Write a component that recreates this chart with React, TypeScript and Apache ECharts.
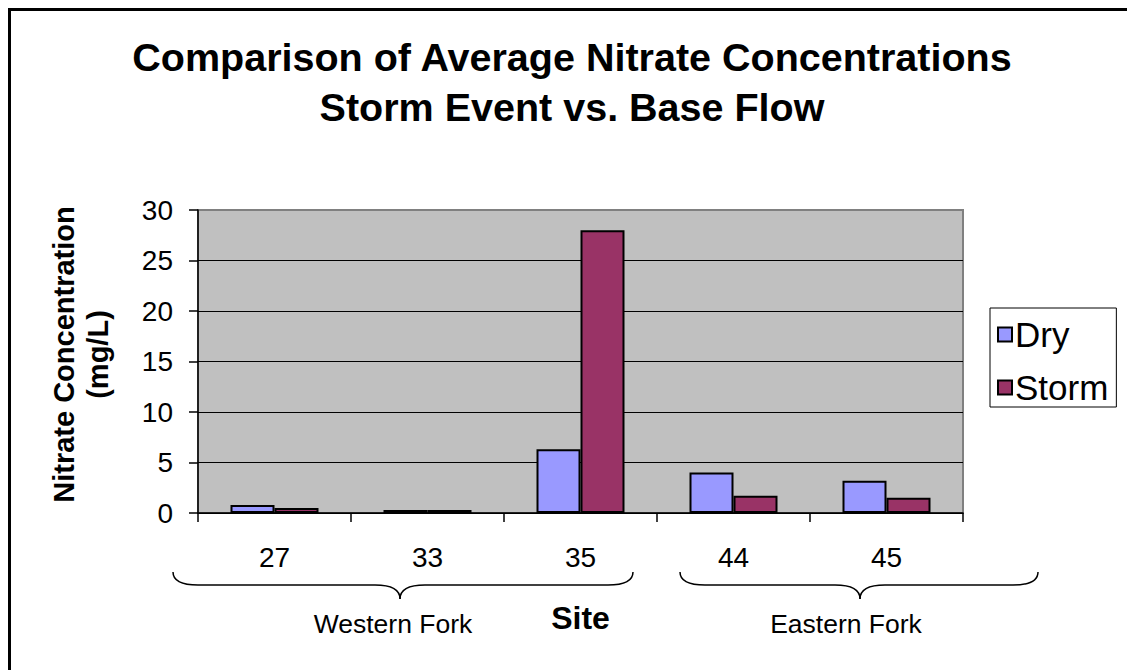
import React, { useEffect, useRef } from "react";
import * as echarts from "echarts";

// Sampling sites along the stream and their average nitrate (mg/L)
const sites = ["27", "33", "35", "44", "45"];
const dryValues = [0.8, 0.3, 6.3, 4.0, 3.2];
const stormValues = [0.5, 0.3, 28.0, 1.7, 1.5];
const seriesNames = ["Dry", "Storm"];
const yTicks = { min: 0, max: 30, interval: 5 };
const titleLines = [
  "Comparison of Average Nitrate Concentrations",
  "Storm Event vs. Base Flow",
];
const forkLabels = ["Western Fork", "Eastern Fork"];

const FONT = "'Liberation Sans', Arial, sans-serif";

// Curly brace drawn as quadratic curves and straight segments
function brace(xa: number, xm: number, xb: number, y0: number, y1: number, y2: number, r: number) {
  const style = { stroke: "#000", lineWidth: 1.5, fill: "none" };
  return [
    { type: "bezierCurve", shape: { x1: xa, y1: y0, cpx1: xa, cpy1: y1, x2: xa + r, y2: y1 }, style },
    { type: "line", shape: { x1: xa + r, y1: y1, x2: xm - r, y2: y1 }, style },
    { type: "bezierCurve", shape: { x1: xm - r, y1: y1, cpx1: xm, cpy1: y1, x2: xm, y2: y2 }, style },
    { type: "bezierCurve", shape: { x1: xm, y1: y2, cpx1: xm, cpy1: y1, x2: xm + r, y2: y1 }, style },
    { type: "line", shape: { x1: xm + r, y1: y1, x2: xb - r, y2: y1 }, style },
    { type: "bezierCurve", shape: { x1: xb - r, y1: y1, cpx1: xb, cpy1: y1, x2: xb, y2: y0 }, style },
  ];
}

export default function App() {
  const ref = useRef<HTMLDivElement>(null);

  useEffect(() => {
    if (!ref.current) return;
    const chart = echarts.init(ref.current, undefined, { renderer: "svg" });

    const option = {
      animation: false,
      backgroundColor: "#fff",
      textStyle: { fontFamily: FONT, color: "#000" },
      grid: {
        left: 190,
        top: 202,
        width: 765,
        height: 303,
        show: true,
        backgroundColor: "#C0C0C0",
        borderColor: "#808080",
        borderWidth: 2,
      },
      legend: {
        data: seriesNames,
        orient: "vertical",
        left: 982,
        top: 300,
        icon: "rect",
        itemWidth: 14,
        itemHeight: 14,
        itemGap: 18,
        padding: [9, 8, 2, 7],
        borderColor: "#000",
        borderWidth: 1,
        textStyle: { fontFamily: FONT, fontSize: 35, color: "#000", lineHeight: 30, padding: [0, 0, 0, -2] },
      },
      xAxis: {
        type: "category",
        data: sites,
        name: "Site",
        nameLocation: "middle",
        nameGap: 89,
        nameTextStyle: { fontFamily: FONT, fontSize: 32, fontWeight: "bold", color: "#000" },
        axisLine: { lineStyle: { color: "#000", width: 1.5 } },
        axisTick: { show: true, length: 9, lineStyle: { color: "#000", width: 1.5 } },
        axisLabel: { fontFamily: FONT, fontSize: 28, color: "#000", margin: 30 },
      },
      yAxis: {
        type: "value",
        min: yTicks.min,
        max: yTicks.max,
        interval: yTicks.interval,
        name: "Nitrate Concentration\n(mg/L)",
        nameLocation: "middle",
        nameGap: 83,
        nameTextStyle: {
          fontFamily: FONT,
          fontSize: 29,
          fontWeight: "bold",
          color: "#000",
          lineHeight: 34,
          padding: [0, 0, 0, 14],
        },
        axisLine: { show: true, lineStyle: { color: "#000", width: 1.5 } },
        axisTick: { show: true, length: 9, lineStyle: { color: "#000", width: 1.5 } },
        axisLabel: { fontFamily: FONT, fontSize: 28, color: "#000", margin: 25 },
        splitLine: {
          show: true,
          showMaxLine: false,
          lineStyle: { color: "#000", width: 1 },
        },
      },
      series: [
        {
          name: seriesNames[0],
          type: "bar",
          data: dryValues,
          barWidth: 44,
          barGap: "0%",
          itemStyle: { color: "#9999FF", borderColor: "#000", borderWidth: 2 },
        },
        {
          name: seriesNames[1],
          type: "bar",
          data: stormValues,
          barWidth: 44,
          barGap: "0%",
          itemStyle: { color: "#993366", borderColor: "#000", borderWidth: 2 },
        },
      ],
      graphic: [
        // Frame (top and left edges)
        { type: "line", shape: { x1: 0, y1: 1.5, x2: 1119, y2: 1.5 }, style: { stroke: "#000", lineWidth: 3 } },
        { type: "line", shape: { x1: 1.5, y1: 0, x2: 1.5, y2: 662 }, style: { stroke: "#000", lineWidth: 3 } },
        {
          type: "text",
          x: 564,
          y: 49,
          style: {
            text: titleLines[0],
            font: `bold 39.5px ${FONT}`,
            fill: "#000",
            textAlign: "center",
            textVerticalAlign: "middle",
          },
        },
        {
          type: "text",
          x: 564,
          y: 99,
          style: {
            text: titleLines[1],
            font: `bold 39.5px ${FONT}`,
            fill: "#000",
            textAlign: "center",
            textVerticalAlign: "middle",
          },
        },
        ...brace(165, 392, 625, 564, 577, 591, 25),
        ...brace(672, 852, 1030, 564, 577, 591, 25),
        {
          type: "text",
          x: 385,
          y: 616,
          style: {
            text: forkLabels[0],
            font: `26.5px ${FONT}`,
            fill: "#000",
            textAlign: "center",
            textVerticalAlign: "middle",
          },
        },
        {
          type: "text",
          x: 838,
          y: 616,
          style: {
            text: forkLabels[1],
            font: `26.5px ${FONT}`,
            fill: "#000",
            textAlign: "center",
            textVerticalAlign: "middle",
          },
        },
      ],
    };

    chart.setOption(option as any);
    return () => chart.dispose();
  }, []);

  return (
    <div style={{ position: "fixed", left: 8, top: 8, width: 1119, height: 662, overflow: "hidden" }}>
      <div ref={ref} style={{ width: 1119, height: 662 }} />
    </div>
  );
}
